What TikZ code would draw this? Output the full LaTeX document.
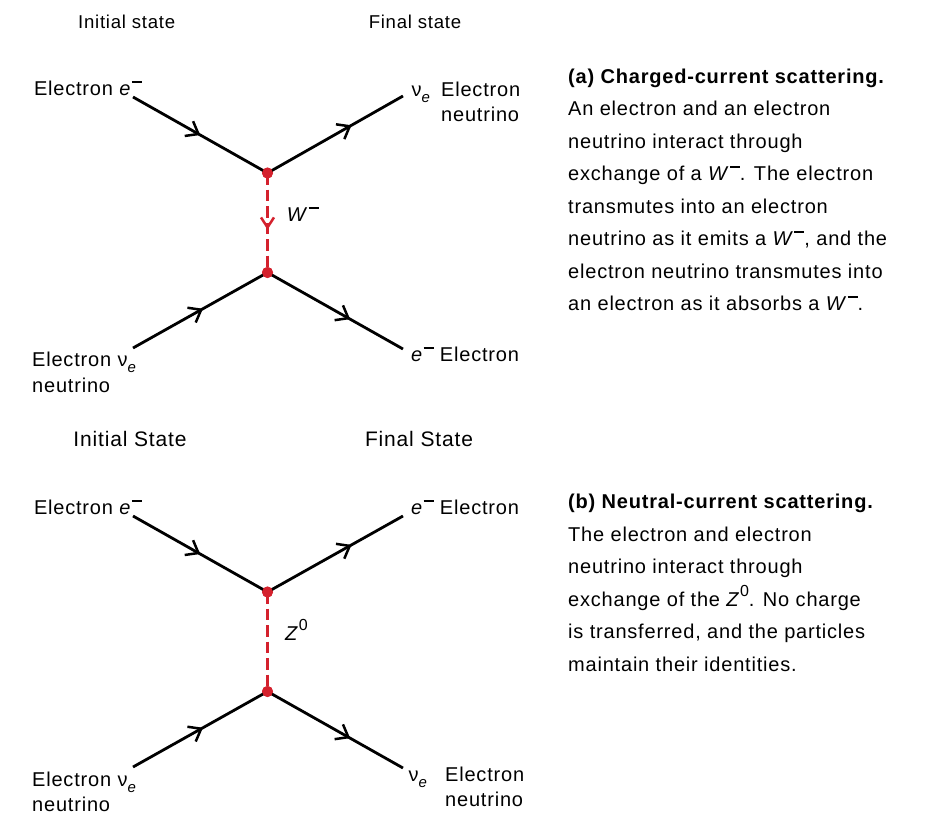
\documentclass[tikz,border=0pt]{standalone}
\usepackage{fontspec}
\setmainfont{Liberation Sans}[LetterSpace=4]
\usepackage{tikz}
\usetikzlibrary{arrows.meta,decorations.markings}

\definecolor{bosonred}{RGB}{212,33,45}
\newcommand{\hiidx}[1]{\raisebox{0.5em}{\fontsize{16}{16}\selectfont #1}}
\newcommand{\himinus}{\hspace{0.5pt}\rule[0.62em]{0.5em}{0.09em}}
\newcommand{\lowidx}[1]{\raisebox{-0.3em}{\fontsize{15}{15}\selectfont\itshape #1}}
\newcommand{\elneg}{\textit{e}\himinus}
\newcommand{\nue}{ν\lowidx{e}}

\begin{document}
\begin{tikzpicture}[x=1pt, y=-1pt,
        every node/.style={inner sep=0pt, font=\fontsize{20}{25}\selectfont},
        fermion/.style={line width=2.8pt,
            postaction={decorate, decoration={markings,
                mark=at position #1 with {\arrow{Straight Barb[length=11pt,width=17pt,line width=2.5pt]}}}}},
        boson/.style={bosonred, line width=2.8pt, dash pattern=on 11.5pt off 5pt},
        wboson/.style={boson,
            postaction={decorate, solid, decoration={markings,
                mark=at position 0.57 with {\arrow{Straight Barb[length=10pt,width=13pt,line width=2.5pt]}}}}},
        vertex/.style={circle, fill=bosonred, minimum size=11pt},
        stateA/.style={anchor=base, font=\fontsize{18.6}{20}\selectfont},
        stateB/.style={anchor=base, font=\fontsize{21}{24}\selectfont},
        caption/.style={anchor=base west, align=left, font=\fontsize{20}{32.5}\selectfont}]
    \useasboundingbox (0,0) rectangle (934,814);

    % (a) charged current
    \node[stateA] (a-init) at (126.7,28.3) {Initial state};
    \node[stateA] (a-final) at (415,28.3) {Final state};

    \node[vertex] (a-v1) at (267.5,173) {};
    \node[vertex] (a-v2) at (267.5,272.5) {};
    \coordinate (a-ein) at (133,97);
    \coordinate (a-nuout) at (403,96);
    \coordinate (a-nuin) at (133,348);
    \coordinate (a-eout) at (403,349);

    \draw[fermion=0.5] (a-ein) -- (a-v1.center);
    \draw[fermion=0.62] (a-v1.center) -- (a-nuout);
    \draw[fermion=0.52] (a-nuin) -- (a-v2.center);
    \draw[fermion=0.61] (a-v2.center) -- (a-eout);
    \draw[wboson] (a-v1.center) -- (a-v2.center);
    \node[vertex] at (a-v1) {};
    \node[vertex] at (a-v2) {};

    \node[anchor=base east] (a-ein-lbl) at (142,95) {Electron \elneg};
    \node[anchor=base west] (a-nuout-sym) at (411.5,96) {\nue};
    \node[anchor=base west] (a-nuout-lbl) at (441,96) {Electron};
    \node[anchor=base west] (a-nuout-lbl2) at (441,121) {neutrino};
    \node[anchor=base west] (a-nuin-lbl) at (32,366) {Electron \nue};
    \node[anchor=base west] (a-nuin-lbl2) at (32,392) {neutrino};
    \node[anchor=base west] (a-eout-lbl) at (411,361) {\elneg\ Electron};
    \node[anchor=base west] (a-w) at (286.7,221) {\textit{W}\himinus};

    % last line sets the base
    \node[caption] (a-text) at (568,310.5) {\textbf{(a) Charged-current scattering.}\\
        An electron and an electron\\
        neutrino interact through\\
        exchange of a \textit{W}\himinus. The electron\\
        transmutes into an electron\\
        neutrino as it emits a \textit{W}\himinus, and the\\
        electron neutrino transmutes into\\
        an electron as it absorbs a \textit{W}\himinus.};

    % (b) neutral current
    \node[stateB] (b-init) at (130,446.7) {Initial State};
    \node[stateB] (b-final) at (419,446.7) {Final State};

    \node[vertex] (b-v1) at (267.5,592) {};
    \node[vertex] (b-v2) at (267.5,691.5) {};
    \coordinate (b-ein) at (133,516);
    \coordinate (b-eout) at (403,516);
    \coordinate (b-nuin) at (133,767);
    \coordinate (b-nuout) at (403,768);

    \draw[fermion=0.5] (b-ein) -- (b-v1.center);
    \draw[fermion=0.62] (b-v1.center) -- (b-eout);
    \draw[fermion=0.52] (b-nuin) -- (b-v2.center);
    \draw[fermion=0.61] (b-v2.center) -- (b-nuout);
    \draw[boson] (b-v1.center) -- (b-v2.center);
    \node[vertex] at (b-v1) {};
    \node[vertex] at (b-v2) {};

    \node[anchor=base east] (b-ein-lbl) at (142,514) {Electron \elneg};
    \node[anchor=base west] (b-eout-lbl) at (411,514) {\elneg\ Electron};
    \node[anchor=base west] (b-nuin-lbl) at (32,786) {Electron \nue};
    \node[anchor=base west] (b-nuin-lbl2) at (32,811) {neutrino};
    \node[anchor=base west] (b-nuout-sym) at (408.5,781) {\nue};
    \node[anchor=base west] (b-nuout-lbl) at (445,781) {Electron};
    \node[anchor=base west] (b-nuout-lbl2) at (445,806.5) {neutrino};
    \node[anchor=base west] (b-z) at (285,640) {\textit{Z}\hiidx{0}};

    \node[caption] (b-text) at (568,671) {\textbf{(b) Neutral-current scattering.}\\
        The electron and electron\\
        neutrino interact through\\
        exchange of the \textit{Z}\hiidx{0}. No charge\\
        is transferred, and the particles\\
        maintain their identities.};
\end{tikzpicture}
\end{document}
